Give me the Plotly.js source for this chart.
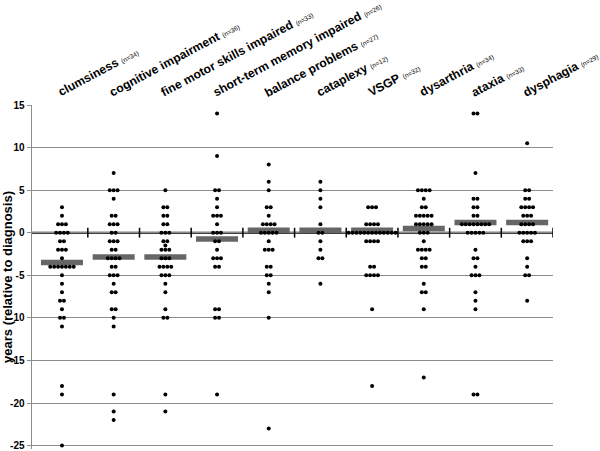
<!DOCTYPE html>
<html>
<head>
<meta charset="utf-8">
<script src="https://cdn.plot.ly/plotly-3.0.1.min.js"></script>
<style>
  html, body { margin: 0; padding: 0; background: #fff; }
  #grafico { width: 600px; height: 451px; }
</style>
</head>
<body>
<div id="grafico"></div>
<script>
  // symptom categories and sample sizes
  let categorias = ['clumsiness', 'cognitive impairment', 'fine motor skills impaired',
    'short-term memory impaired', 'balance problems', 'cataplexy', 'VSGP',
    'dysarthria', 'ataxia', 'dysphagia'];
  let nPacientes = [34, 36, 33, 26, 27, 12, 32, 34, 33, 29];

  // years relative to diagnosis, one value per patient
  let clumsiness = [3, 2, 1, 1, 1, 0, 0, 0, 0, -1, -1, -2, -2, -2, -3, -4, -4, -4, -4, -4, -4, -4,
    -5, -6, -7, -8, -8, -9, -10, -10, -11, -18, -19, -25];
  let cognitive = [7, 5, 5, 5, 4, 2, 2, 1, 1, 1, 0, 0, -1, -1, -1, -2, -2, -3, -3, -3, -3, -4, -4,
    -5, -5, -5, -6, -7, -7, -9, -9, -10, -11, -19, -21, -22];
  let fineMotor = [5, 3, 3, 2, 2, 1, 1, 0, 0, 0, -1, -1, -1.5, -2, -2, -2, -3, -3, -3, -4, -4, -4, -4,
    -5, -5, -5, -6, -7, -9, -10, -10, -19, -21];
  let shortTerm = [14, 9, 5, 5, 4, 3, 2, 2, 2, 1, 0, 0, 0, -1, -1, -2, -3, -3, -3, -4, -4,
    -9, -9, -10, -10, -19];
  let balance = [8, 6, 5, 3, 3, 2, 1, 1, 1, 1, 0, 0, 0, 0, 0, -1, -2, -2, -2, -4, -4, -5, -5,
    -6, -7, -10, -23];
  let cataplexy = [6, 5, 4, 3, 1, 0, 0, -1, -2, -3, -3, -6];
  let vsgp = [3, 3, 3, 1, 1, 1, 1, 0, 0, 0, 0, 0, 0, 0, 0, 0, 0, 0, 0, 0, -1, -1, -1, -1,
    -4, -4, -5, -5, -5, -5, -9, -18];
  let dysarthria = [5, 5, 5, 5, 4, 3, 3, 2, 2, 2, 2, 2, 1, 1, 1, 1, 1, 0, 0, 0, -1, -2, -2, -2, -2,
    -3, -3, -4, -4, -6, -7, -7, -9, -17];
  let ataxia = [14, 14, 7, 4, 4, 3, 3, 2, 2, 1, 1, 1, 1, 1, 1, 1, 1, 0, 0, 0, 0, 0, -2, -3, -3, -4,
    -5, -5, -5, -7, -8, -9, -19, -19];
  let dysphagia = [10.5, 5, 5, 4, 4, 3, 3, 3, 3, 2, 2, 2, 1, 1, 1, 1, 0, 0, 0, 0, 0, -1, -1, -1,
    -3, -4, -5, -5, -8];

  // median bars
  let medianas = [-3.5, -2.85, -2.85, -0.75, 0.3, 0.3, 0.3, 0.5, 1.2, 1.2];

  // y axis ticks
  let yTicks = [15, 10, 5, 0, -5, -10, -15, -20, -25];

  let series = [clumsiness, cognitive, fineMotor, shortTerm, balance, cataplexy, vsgp,
    dysarthria, ataxia, dysphagia];

  let paso = 0.0755;  // horizontal gap between dots sharing a value
  let yRange = [-25.4, 15];
  let xRange = [-0.58, 9.5];

  // beeswarm: spread equal values side by side around the category
  let xs = [], ys = [];
  series.forEach((vals, i) => {
    let grupos = {};
    vals.forEach(v => {
      grupos[v] = (grupos[v] || 0) + 1;
    });
    Object.keys(grupos).forEach(k => {
      let cnt = grupos[k];
      for (let j = 0; j < cnt; j++) {
        xs.push(i + (j - (cnt - 1) / 2) * paso);
        ys.push(Number(k));
      }
    });
  });

  let posiciones = categorias.map((c, i) => i);
  let divisiones = categorias.map((c, i) => i + 0.5);

  // rotated category labels above the plot
  let anotaciones = categorias.map((c, i) => ({
    x: i,
    xref: 'x',
    y: 1,
    yref: 'paper',
    text: '<b>' + c + '</b> <span style="font-size:6.5px">(n=' + nPacientes[i] + ')</span>',
    showarrow: false,
    xanchor: 'left',
    yanchor: 'bottom',
    xshift: -9,
    yshift: 3,
    textangle: -28,
    font: { size: 12.2, color: '#000' }
  }));

  let trazas = [
    {
      // small ticks on the zero line between categories
      x: divisiones,
      y: divisiones.map(() => 0),
      mode: 'markers',
      type: 'scatter',
      hoverinfo: 'skip',
      marker: { symbol: 'line-ns', size: 7, line: { width: 1.5, color: '#000' } }
    },
    {
      x: posiciones,
      y: medianas,
      mode: 'markers',
      type: 'scatter',
      hoverinfo: 'skip',
      marker: { symbol: 'line-ew', size: 30, line: { width: 5.5, color: '#666666' } }
    },
    {
      x: xs,
      y: ys,
      mode: 'markers',
      type: 'scatter',
      marker: { color: '#000', size: 4 }
    }
  ];

  let layout = {
    width: 600,
    height: 451,
    margin: { l: 32, r: 47, t: 105, b: 2 },
    paper_bgcolor: '#fff',
    plot_bgcolor: '#fff',
    showlegend: false,
    font: { family: 'Liberation Sans, Arial, sans-serif', color: '#000' },
    annotations: anotaciones,
    shapes: [{
      type: 'line',
      xref: 'paper', x0: 0, x1: 1,
      yref: 'y', y0: 0, y1: 0,
      layer: 'between',
      line: { color: '#000', width: 2 }
    }],
    xaxis: {
      range: xRange,
      showticklabels: false,
      ticks: '',
      showline: false,
      showgrid: false,
      zeroline: false
    },
    yaxis: {
      range: yRange,
      tickvals: yTicks,
      ticktext: yTicks.map(String),
      ticks: 'outside',
      ticklen: 4,
      tickcolor: '#8c8c8c',
      ticklabeloverflow: 'allow',
      tickfont: { size: 10, weight: 'bold' },
      showline: true,
      linecolor: '#8c8c8c',
      linewidth: 1.5,
      showgrid: true,
      gridcolor: '#8c8c8c',
      gridwidth: 1,
      zeroline: false,
      title: { text: 'years (relative to diagnosis)', font: { size: 13, weight: 'bold' }, standoff: 4 }
    }
  };

  Plotly.newPlot('grafico', trazas, layout, { displayModeBar: false, staticPlot: true });
</script>
</body>
</html>
